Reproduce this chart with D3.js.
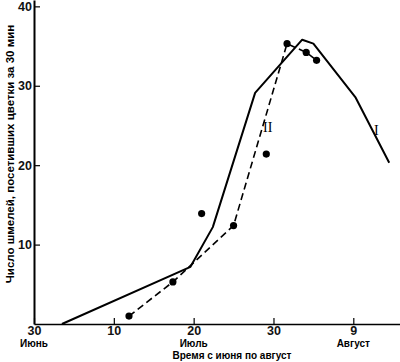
<!DOCTYPE html>
<html>
<head>
<meta charset="utf-8">
<script src="https://cdn.jsdelivr.net/npm/d3@7"></script>
<style>
  body { margin: 0; background: #fff; }
  svg { display: block; font-family: "Liberation Sans", Arial, sans-serif; }
  .axis text { font-weight: bold; font-size: 12.5px; fill: #111; }
</style>
</head>
<body>
<script>
// days counted from 30 June
var curveIDays = [3.5, 19.6, 22.4, 27.7, 33.6, 35.0, 40.3, 44.5];
var curveIValues = [0, 7.2, 12.2, 29.1, 35.8, 35.3, 28.5, 20.3];

var curveIIDays = [11.9, 17.4, 25.0, 31.7, 34.1, 35.4];
var curveIIValues = [1.0, 5.3, 12.4, 35.3, 34.2, 33.2];

var dotDays = [11.9, 17.4, 21.0, 25.0, 29.1, 31.7, 34.1, 35.4];
var dotValues = [1.0, 5.3, 13.9, 12.4, 21.4, 35.3, 34.2, 33.2];

var xTickDays = [0, 10, 20, 30, 40];
var xTickLabels = ["30", "10", "20", "30", "9"];
var monthDays = [0, 20, 40];
var monthNames = ["Июнь", "Июль", "Август"];
var yTicks = [10, 20, 30, 40];

var width = 400, height = 362;

var x = d3.scaleLinear().domain([0, 45.85]).range([34, 400]);
var y = d3.scaleLinear().domain([0, 40.8]).range([324, 0]);

var svg = d3.select("body").append("svg")
	.attr("width", width)
	.attr("height", height);

var xAxis = svg.append("g")
	.attr("class", "axis")
	.attr("transform", "translate(0," + y(0) + ")")
	.call(d3.axisBottom(x)
		.tickValues(xTickDays)
		.tickSizeInner(-6)
		.tickSizeOuter(0)
		.tickPadding(2)
		.tickFormat(function(d, i) { return xTickLabels[i]; }));
xAxis.select(".domain").attr("stroke-width", 1.5);
xAxis.selectAll(".tick line").attr("stroke-width", 1.2);

var yAxis = svg.append("g")
	.attr("class", "axis")
	.attr("transform", "translate(" + x(0) + ",0)")
	.call(d3.axisLeft(y)
		.tickValues(yTicks)
		.tickSizeInner(-6)
		.tickSizeOuter(0)
		.tickPadding(2));
yAxis.select(".domain").attr("stroke-width", 2);
yAxis.selectAll(".tick line").attr("stroke-width", 1.2);

svg.selectAll(".month")
	.data(monthDays)
	.enter().append("text")
	.attr("class", "month")
	.attr("x", function(d) { return x(d); })
	.attr("y", 347)
	.attr("text-anchor", "middle")
	.style("font-size", "10px")
	.style("font-weight", "bold")
	.text(function(d, i) { return monthNames[i]; });

svg.append("text")
	.attr("x", 232)
	.attr("y", 359)
	.attr("text-anchor", "middle")
	.style("font-size", "10px")
	.style("font-weight", "bold")
	.text("Время с июня по август");

svg.append("text")
	.attr("transform", "translate(14,154) rotate(-90)")
	.attr("text-anchor", "middle")
	.style("font-size", "11.5px")
	.style("font-weight", "bold")
	.text("Число шмелей, посетивших  цветки за 30 мин");

var line = d3.line()
	.x(function(d) { return x(d[0]); })
	.y(function(d) { return y(d[1]); });

svg.append("path")
	.datum(d3.zip(curveIDays, curveIValues))
	.attr("fill", "none")
	.attr("stroke", "#000")
	.attr("stroke-width", 2)
	.attr("stroke-linejoin", "round")
	.attr("d", line);

svg.append("path")
	.datum(d3.zip(curveIIDays, curveIIValues))
	.attr("fill", "none")
	.attr("stroke", "#000")
	.attr("stroke-width", 1.6)
	.attr("stroke-dasharray", "7,4")
	.attr("d", line);

svg.selectAll(".dot")
	.data(d3.zip(dotDays, dotValues))
	.enter().append("circle")
	.attr("class", "dot")
	.attr("cx", function(d) { return x(d[0]); })
	.attr("cy", function(d) { return y(d[1]); })
	.attr("r", 3.6)
	.attr("fill", "#000");

svg.append("text")
	.attr("x", 263)
	.attr("y", 132)
	.style("font-family", "'Liberation Serif', serif")
	.style("font-size", "14px")
	.text("II");

svg.append("text")
	.attr("x", 374)
	.attr("y", 135)
	.style("font-family", "'Liberation Serif', serif")
	.style("font-size", "14px")
	.text("I");
</script>
</body>
</html>
